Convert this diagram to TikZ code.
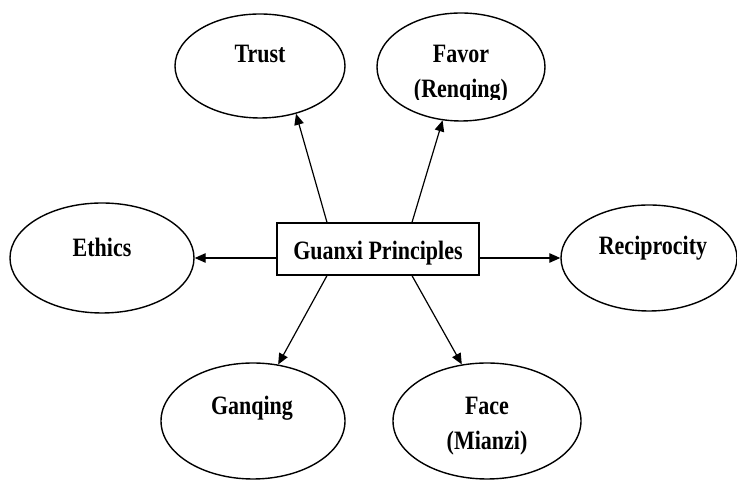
\documentclass[tikz,border=0pt]{standalone}
\usepackage{graphicx}
\usepackage{fontspec}
\setmainfont{Liberation Serif}
\usetikzlibrary{arrows.meta,calc,shapes.geometric}
% condensed lettering used for every label
\newcommand{\narrow}[1]{\scalebox{0.83}[1]{#1}}

\begin{document}
\begin{tikzpicture}[x=1pt,y=1pt,
  bubble/.style={draw, line width=1.4pt, ellipse, inner sep=0pt},
  hub/.style={draw, line width=1.3pt, rectangle, minimum width=202pt, minimum height=52pt, inner sep=0pt},
  caption/.style={anchor=base, inner sep=0pt, font=\fontsize{26.5}{35}\selectfont\bfseries},
  link/.style={line width=1.2pt, -{Triangle[length=11pt,width=9.5pt]}}]
\useasboundingbox (0,0) rectangle (737,481);

% central principle
\node[hub] (box) at (378,232) {};
\node[caption] (boxtext) at (378,221) {\narrow{Guanxi Principles}};

% surrounding principles
\node[bubble, minimum width=170pt, minimum height=104pt] (trust)   at (260,415) {};
\node[bubble, minimum width=168pt, minimum height=108pt] (favor)   at (461,414) {};
\node[bubble, minimum width=184pt, minimum height=110pt] (ethics)  at (102,223) {};
\node[bubble, minimum width=176pt, minimum height=106pt] (recip)   at (649,223) {};
\node[bubble, minimum width=184pt, minimum height=116pt] (ganqing) at (253,60) {};
\node[bubble, minimum width=188pt, minimum height=116pt] (face)    at (487,60) {};

\node[caption] (trusttext) at (260,418) {\narrow{Trust}};
\begin{scope}
  \clip (361,381) rectangle (561,481);
  \node[caption] (favortext) at (461,418) {\narrow{\begin{tabular}[t]{@{}c@{}}Favor\\(Renqing)\end{tabular}}};
\end{scope}
\node[caption] (ethicstext) at (102,224) {\narrow{Ethics}};
\node[caption] (reciptext) at (653,226) {\narrow{Reciprocity}};
\node[caption] (ganqingtext) at (252,66) {\narrow{Ganqing}};
\node[caption] (facetext) at (487,66) {\narrow{\begin{tabular}[t]{@{}c@{}}Face\\(Mianzi)\end{tabular}}};

% connectors from the hub
\draw[link] ($(box.north)+(-51,0)$) -- (trust.-53);
\draw[link] ($(box.north)+(34,0)$) -- (favor.-109);
\draw[link] ($(box.west)+(0,-9)$) -- (ethics.east);
\draw[link] ($(box.east)+(0,-9)$) -- (recip.west);
\draw[link] ($(box.south)+(-51,0)$) -- (ganqing.66);
\draw[link] ($(box.south)+(34,0)$) -- (face.114);
\end{tikzpicture}
\end{document}
